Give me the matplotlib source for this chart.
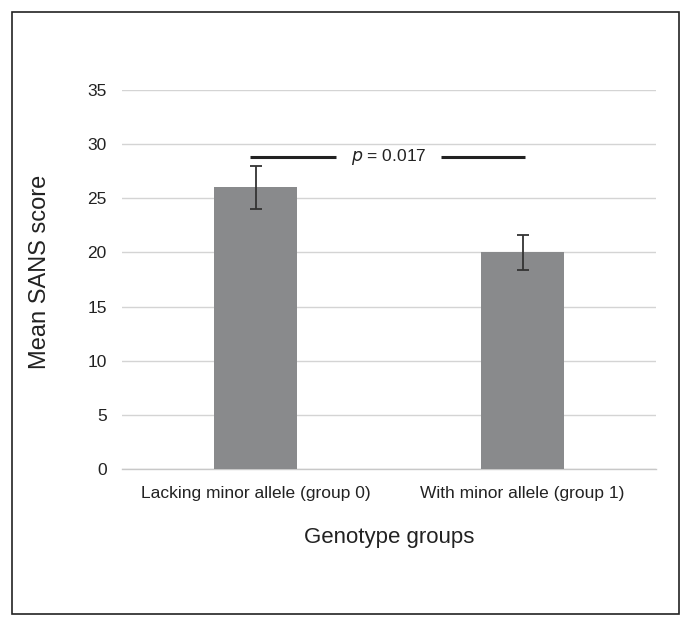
import matplotlib
matplotlib.use("Agg")
import matplotlib.pyplot as plt
from matplotlib.patches import Rectangle

categories = ["Lacking minor allele (group 0)", "With minor allele (group 1)"]
means = [26.0, 20.0]
errors = [1.95, 1.6]
p_value_label = "0.017"
p_line_y = 28.8
yticks = [0, 5, 10, 15, 20, 25, 30, 35]

plt.rcParams['font.family'] = ['Liberation Sans', 'DejaVu Sans']

fig = plt.figure(figsize=(6.91, 6.28), dpi=100)
fig.patches.append(Rectangle((12/691, 1-614/628), (679-12)/691, (614-12)/628,
                             transform=fig.transFigure, fill=False,
                             edgecolor='#222222', linewidth=1.2))
ax = fig.add_axes([122/691, 1-469/628, (656-122)/691, (469-90)/628])

x = list(range(len(categories)))
ax.bar(x, means, width=0.31, color='#898a8c', zorder=3)
ax.errorbar(x, means, yerr=errors, fmt='none', ecolor='#333333',
            elinewidth=1.3, capsize=4, capthick=1.3, zorder=4)

ax.set_xlim(-0.5, 1.5)
ax.set_ylim(0, 35)
ax.set_yticks(yticks)
ax.yaxis.grid(True, color='#d4d4d4', linewidth=1.0, zorder=0)
ax.set_axisbelow(True)
for s in ['top', 'right', 'left']:
    ax.spines[s].set_visible(False)
ax.spines['bottom'].set_color('#c8c8c8')
ax.spines['bottom'].set_linewidth(1.0)
ax.tick_params(axis='both', length=0, colors='#222222')
ax.tick_params(axis='y', pad=11, labelsize=12.5)
ax.tick_params(axis='x', pad=12, labelsize=12.5)
ax.set_xticks(x)
ax.set_xticklabels(categories)

ax.set_ylabel("Mean SANS score", fontsize=17, color='#222222', labelpad=26)
ax.yaxis.label.set_y(0.52)
ax.set_xlabel("Genotype groups", fontsize=16, color='#222222', labelpad=19)

# significance bracket
ax.plot([x[0] - 0.022, x[0] + 0.303], [p_line_y, p_line_y], color='#222222', lw=2.2, solid_capstyle='butt')
ax.plot([x[1] - 0.307, x[1] + 0.011], [p_line_y, p_line_y], color='#222222', lw=2.2, solid_capstyle='butt')
ax.text((x[0] + x[1]) / 2, p_line_y, r"$\it{p}$ = " + p_value_label, ha='center', va='center',
        fontsize=12.5, color='#222222')

fig.savefig("out.png", dpi=100)
